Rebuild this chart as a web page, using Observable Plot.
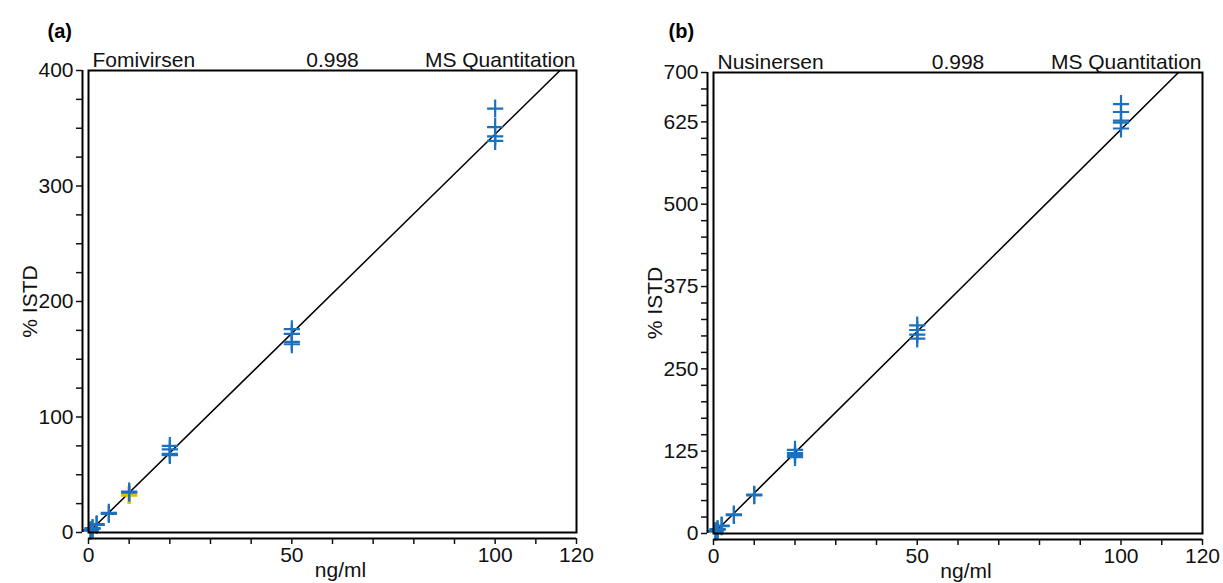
<!DOCTYPE html>
<html>
<head>
<meta charset="utf-8">
<script src="https://cdn.jsdelivr.net/npm/d3@7"></script>
<script src="https://cdn.jsdelivr.net/npm/@observablehq/plot@0.6"></script>
<style>
  html, body { margin: 0; padding: 0; background: #fff; }
  #wrap { position: relative; width: 1223px; height: 583px; overflow: hidden; }
  .panel { position: absolute; top: 0; }
</style>
</head>
<body>
<div id="wrap">
  <div class="panel" id="pa" style="left:0px"></div>
  <div class="panel" id="pb" style="left:612px"></div>
</div>
<script>
// ---------- Data ----------
// Panel (a): Fomivirsen
const concA = [0.5, 0.5, 1, 1, 2, 2, 5, 5, 10, 10, 20, 20, 20, 20, 50, 50, 50, 50, 100, 100, 100, 100];
const istdA = [1.6, 2.0, 3.2, 3.8, 6.5, 7.2, 16.0, 17.0, 34.5, 35.5, 75, 72, 68, 67, 176, 172, 165, 163, 367, 351, 343, 339];
const concA2 = [10];          // highlighted (yellow) replicate
const istdA2 = [32.5];
const slopeA = 3.45;          // calibration fit (through origin)

// Panel (b): Nusinersen
const concB = [0.5, 0.5, 1, 1, 2, 2, 5, 5, 10, 10, 20, 20, 20, 20, 50, 50, 50, 50, 100, 100, 100, 100, 100];
const istdB = [3, 3.5, 6, 6.5, 11, 12, 28, 29, 58, 59, 127, 122, 119, 116, 316, 309, 302, 296, 652, 640, 627, 624, 615];
const slopeB = 6.135;

const fitX = [0, 120];

const xTicks = d3.range(0, 121, 10);
const xTickLabels = [0, 50, 100, 120];
const yTicksA = d3.range(0, 401, 25);
const yTickLabelsA = [0, 100, 200, 300, 400];
const yTicksB = d3.range(0, 701, 25);
const yTickLabelsB = [0, 125, 250, 375, 500, 625, 700];

const r2Text = "0.998";
const methodText = "MS Quantitation";

// ---------- Styles ----------
const BLUE = "#1d71bc";
const YELLOW = "#f2b705";
const FONT = "'Liberation Sans', Arial, Helvetica, sans-serif";

const plusSymbol = {
  draw(context, size) {
    const r = Math.sqrt(size / Math.PI);
    context.moveTo(-r * 0.9, 0);
    context.lineTo(r * 0.9, 0);
    context.moveTo(0, -r);
    context.lineTo(0, r);
  }
};

function panel({tag, name, xs, ys, xs2, ys2, slope, yMax, yTicks, yLabels, margins}) {
  const pts = xs.map((x, i) => ({x, y: ys[i]}));
  const pts2 = (xs2 || []).map((x, i) => ({x, y: ys2[i]}));
  const fit = fitX.map(x => ({x, y: slope * x}));
  return Plot.plot({
    width: 611,
    height: 583,
    marginTop: margins.marginTop, marginBottom: margins.marginBottom,
    marginLeft: margins.marginLeft, marginRight: margins.marginRight,
    style: {fontFamily: FONT, fontSize: "21px", color: "#111", background: "white"},
    x: {domain: [0, 120]},
    y: {domain: [0, yMax]},
    marks: [
      Plot.line(fit, {x: "x", y: "y", stroke: "#000", strokeWidth: 1.5, clip: true}),
      Plot.dot(pts2, {x: "x", y: "y", symbol: plusSymbol, r: 9, fill: "none", stroke: YELLOW, strokeWidth: 3.5}),
      Plot.dot(pts, {x: "x", y: "y", symbol: plusSymbol, r: 9, fill: "none", stroke: BLUE, strokeWidth: 2.2}),
      Plot.frame({stroke: "#000", strokeWidth: 2}),
      // offset axis lines
      Plot.ruleY([0], {dy: 6, stroke: "#000", strokeWidth: 2}),
      Plot.ruleX([0], {dx: -6, stroke: "#000", strokeWidth: 2}),
      Plot.axisX({
        ticks: xTicks,
        tickFormat: d => xTickLabels.includes(d) ? String(d) : "",
        tickSize: 6, tickPadding: 3, dy: 6, strokeWidth: 1.5, label: null
      }),
      Plot.axisY({
        ticks: yTicks,
        tickFormat: d => yLabels.includes(d) ? String(d) : "",
        tickSize: 6, tickPadding: 3, dx: -6, strokeWidth: 1.5, label: null
      }),
      // axis titles
      Plot.text(["ng/ml"], {frameAnchor: "bottom", dy: 44, dx: 8, fill: "#111"}),
      Plot.text(["% ISTD"], {frameAnchor: "left", textAnchor: "middle", lineAnchor: "middle", rotate: -90, dx: -58, fill: "#111"}),
      // header line
      Plot.text([name], {frameAnchor: "top-left", lineAnchor: "bottom", dx: 4, dy: -4, fill: "#111"}),
      Plot.text([r2Text], {frameAnchor: "top", lineAnchor: "bottom", dy: -4, fill: "#111"}),
      Plot.text([methodText], {frameAnchor: "top-right", lineAnchor: "bottom", dx: -1, dy: -4, fill: "#111"}),
      // panel tag
      Plot.text([tag], {frameAnchor: "top-left", lineAnchor: "middle", textAnchor: "start", dx: margins.tagDx, dy: margins.tagDy, fontSize: 20, fontWeight: "bold", fill: "#000"})
    ]
  });
}

document.getElementById("pa").append(panel({
  tag: "(a)", name: "Fomivirsen", xs: concA, ys: istdA, xs2: concA2, ys2: istdA2,
  slope: slopeA, yMax: 400, yTicks: yTicksA, yLabels: yTickLabelsA,
  margins: {marginTop: 70, marginBottom: 51, marginLeft: 88, marginRight: 35, tagDx: -41, tagDy: -39}
}));

document.getElementById("pb").append(panel({
  tag: "(b)", name: "Nusinersen", xs: concB, ys: istdB,
  slope: slopeB, yMax: 700, yTicks: yTicksB, yLabels: yTickLabelsB,
  margins: {marginTop: 72, marginBottom: 50, marginLeft: 101, marginRight: 21, tagDx: -45, tagDy: -41}
}));
</script>
</body>
</html>
